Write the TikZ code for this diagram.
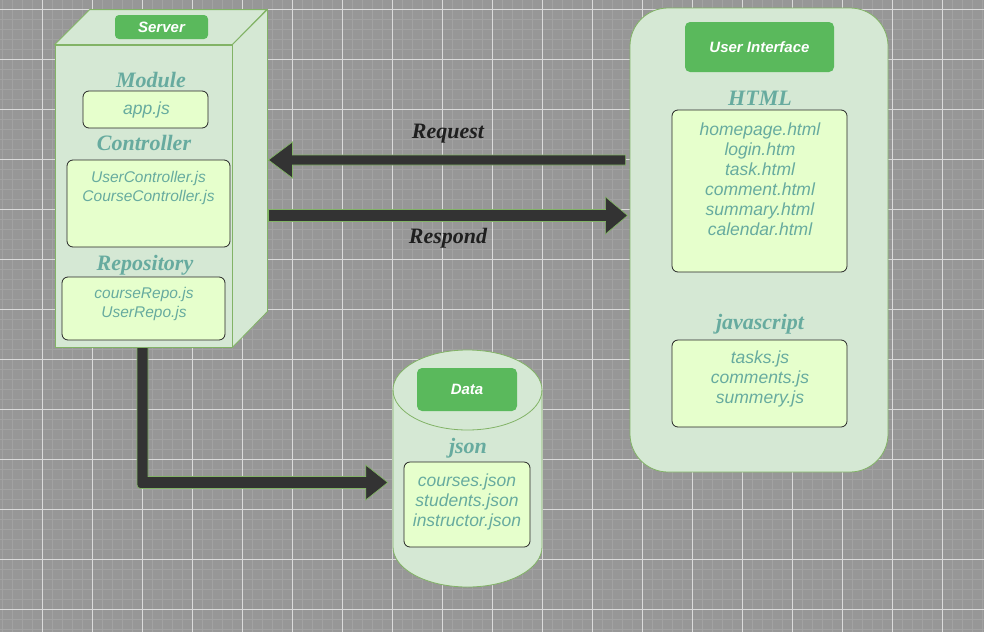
\documentclass[tikz,border=0pt]{standalone}
\usepackage{fontspec}
\setmainfont{Liberation Serif}
\newfontfamily\sansf{Liberation Sans}
\usetikzlibrary{calc}
\definecolor{bgc}{HTML}{979797}
\definecolor{minorc}{HTML}{A2A2A2}
\definecolor{majorc}{HTML}{DADADA}
\definecolor{contfill}{HTML}{D5E8D4}
\definecolor{contline}{HTML}{82B366}
\definecolor{lblfill}{HTML}{5AB95C}
\definecolor{boxfill}{HTML}{E6FFCC}
\definecolor{tealtxt}{HTML}{67AB9F}
\definecolor{arrowc}{HTML}{333333}
\begin{document}
\begin{tikzpicture}[x=1pt,y=-1pt,
  cont/.style={fill=contfill,draw=contline,line width=0.8pt},
  lbl/.style={fill=lblfill,draw=none,rounded corners=4pt,text=white,inner sep=0pt,font=\sansf\bfseries\itshape\fontsize{15}{18}\selectfont},
  hdr/.style={text=tealtxt,font=\bfseries\itshape\fontsize{22}{26}\selectfont,inner sep=0pt},
  files/.style={text=tealtxt,font=\sansf\itshape\fontsize{17.5}{20}\selectfont,align=center,inner sep=0pt},
  smallfiles/.style={text=tealtxt,font=\sansf\itshape\fontsize{15.5}{19}\selectfont,align=center,inner sep=0pt},
  filebox/.style={fill=boxfill,draw=black!85,line width=0.8pt,rounded corners=6pt,inner sep=0pt},
  fat/.style={fill=arrowc,draw=contline,line width=0.7pt,line join=miter},
  flow/.style={text=black!88,font=\bfseries\itshape\fontsize{22}{26}\selectfont,inner sep=0pt}
]
\useasboundingbox (0,0) rectangle (984,632);
% background grid
\begin{scope}
\clip (0,0) rectangle (984,632);
\fill[bgc] (0,0) rectangle (984,632);
\foreach \i in {0,...,98} \draw[minorc,line width=0.7pt] ({2.7+10*\i},0) -- ({2.7+10*\i},632);
\foreach \j in {0,...,63} \draw[minorc,line width=0.7pt] (0,{-0.7+10*\j}) -- (984,{-0.7+10*\j});
\foreach \i in {0,...,19} \draw[majorc,line width=0.8pt] ({42.7+50*\i},0) -- ({42.7+50*\i},632);
\foreach \j in {0,...,12} \draw[majorc,line width=0.8pt] (0,{9.3+50*\j}) -- (984,{9.3+50*\j});
\end{scope}

% Server cube
\node[cont,minimum width=177pt,minimum height=302pt,inner sep=0pt] (server) at (143.5,196) {};
\draw[cont] (server.north west) -- ++(35,-35) -- ++(177,0) -- (server.north east) -- cycle;
\draw[cont] (server.north east) -- ++(35,-35) -- ++(0,302) -- (server.south east) -- cycle;
\node[lbl,minimum width=93pt,minimum height=24pt] (serverlbl) at (161.5,27) {Server};
\node[hdr] (module) at (151,80) {Module};
\node[filebox,minimum width=125pt,minimum height=37pt] (appbox) at (145.5,109.5) {};
\node[files] (app) at (146.5,110) {app.js};
\node[hdr] (ctrl) at (144,143) {Controller};
\node[filebox,minimum width=163pt,minimum height=87pt] (ctrlbox) at (148.5,203.5) {};
\node[smallfiles] (ctrlfiles) at (148.5,188) {UserController.js\\CourseController.js};
\node[hdr] (repo) at (145,265) {Repository};
\node[filebox,minimum width=163pt,minimum height=63pt] (repobox) at (143.5,308.5) {};
\node[smallfiles] (repofiles) at (144,304) {courseRepo.js\\UserRepo.js};

% User interface
\node[cont,rounded corners=38pt,minimum width=258pt,minimum height=464pt,inner sep=0pt] (ui) at (759,240) {};
\node[lbl,rounded corners=5pt,minimum width=149pt,minimum height=50pt] (uilbl) at (759.5,47) {User Interface};
\node[hdr] (html) at (760,98) {HTML};
\node[filebox,minimum width=175pt,minimum height=162pt] (htmlbox) at (759.5,191) {};
\node[files] (htmlfiles) at (760,179) {homepage.html\\login.htm\\task.html\\comment.html\\summary.html\\calendar.html};
\node[hdr] (js) at (760,324) {javascript};
\node[filebox,minimum width=175pt,minimum height=87pt] (jsbox) at (759.5,383.5) {};
\node[files] (jsfiles) at (760,379) {tasks.js\\comments.js\\summery.js};

% Data cylinder
\node[minimum width=149pt,minimum height=238pt,inner sep=0pt] (data) at (467.5,468) {};
\draw[cont] (393,390) -- (393,547) arc[start angle=180,end angle=360,x radius=74.5pt,y radius=40pt] -- (542,390) arc[start angle=0,end angle=180,x radius=74.5pt,y radius=40pt] -- cycle;
\draw[contline,line width=0.8pt] (393,390) arc[start angle=180,end angle=360,x radius=74.5pt,y radius=40pt];
\node[lbl,rounded corners=5pt,minimum width=100pt,minimum height=43pt] (datalbl) at (467,389.5) {Data};
\node[hdr] (json) at (468,448) {json};
\node[filebox,minimum width=126pt,minimum height=85pt] (jsonbox) at (467,504.5) {};
\node[files] (jsonfiles) at (467,502) {courses.json\\students.json\\instructor.json};

% Request arrow
\coordinate (reqS) at ($(ui.west)+(-4,-80)$);
\coordinate (reqT) at ($(server.east)+(36,-36)$);
\draw[fat] ($(reqS)+(0,-5)$) -- ($(reqT)+(24,-5)$) -- ($(reqT)+(24,-18)$) -- (reqT) -- ($(reqT)+(24,18)$) -- ($(reqT)+(24,5)$) -- ($(reqS)+(0,5)$) -- cycle;
\node[flow] (req) at (448,134) {Request};

% Respond arrow
\coordinate (resS) at ($(server.east)+(36,19.5)$);
\coordinate (resT) at ($(ui.west)+(-2,-24.5)$);
\draw[fat] ($(resS)+(0,-6)$) -- ($(resT)+(-22,-6)$) -- ($(resT)+(-22,-18.5)$) -- (resT) -- ($(resT)+(-22,18.5)$) -- ($(resT)+(-22,6)$) -- ($(resS)+(0,6)$) -- cycle;
\node[flow] (res) at (448,238) {Respond};

% Server to data arrow
\coordinate (bS) at ($(server.south)+(-1,0)$);
\coordinate (bT) at ($(data.west)+(-5,14.5)$);
\coordinate (bC) at (bS |- bT);
\draw[fat] ($(bS)+(-5.5,0)$) -- ($(bC)+(-5.5,-2)$) .. controls ($(bC)+(-5.5,6)$) .. ($(bC)+(2.5,6)$) -- ($(bT)+(-22,6)$) -- ($(bT)+(-22,17.5)$) -- (bT) -- ($(bT)+(-22,-17.5)$) -- ($(bT)+(-22,-6)$) -- ($(bC)+(5.5,-6)$) -- ($(bS)+(5.5,0)$) -- cycle;
\end{tikzpicture}
\end{document}
